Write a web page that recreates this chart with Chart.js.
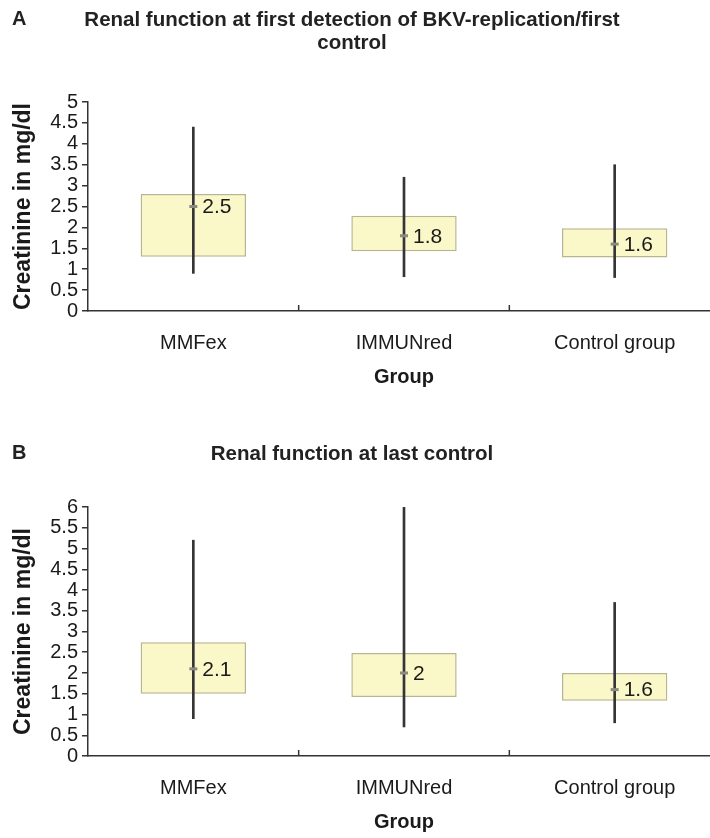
<!DOCTYPE html>
<html>
<head>
<meta charset="utf-8">
<script src="https://cdn.jsdelivr.net/npm/chart.js@4"></script>
<style>
  html, body { margin: 0; padding: 0; background: #ffffff; overflow: hidden; }
  #wrap { position: relative; width: 710px; height: 838px; overflow: hidden; }
  canvas { position: absolute; left: 0; }
  .lbl { position: absolute; font-family: "Liberation Sans", Arial, sans-serif; font-weight: bold; font-size: 20px; color: #222; line-height: 23px; }
  .ttl { position: absolute; left: 0; width: 704px; text-align: center; font-family: "Liberation Sans", Arial, sans-serif; font-weight: bold; font-size: 20.5px; color: #222; line-height: 23px; }
</style>
</head>
<body>
<div id="wrap">
  <canvas id="chartA" width="720" height="420" style="top:0px; width:720px; height:420px;"></canvas>
  <canvas id="chartB" width="720" height="418" style="top:420px; width:720px; height:418px;"></canvas>
  <div class="lbl" style="left:12px; top:7px;">A</div>
  <div class="ttl" style="top:7px;">Renal function at first detection of BKV-replication/first<br>control</div>
  <div class="lbl" style="left:12px; top:441px;">B</div>
  <div class="ttl" style="top:441px;">Renal function at last control</div>
</div>
<script>
// ---------- data ----------
const categories = ['MMFex', 'IMMUNred', 'Control group'];

// Panel A: first detection of BKV replication / first control
const minA    = [0.90, 0.82, 0.80];
const q1A     = [1.30, 1.43, 1.28];
const medianA = [2.5, 1.8, 1.6];
const q3A     = [2.80, 2.28, 1.98];
const maxA    = [4.40, 3.20, 3.50];
const yTicksA = [0, 0.5, 1, 1.5, 2, 2.5, 3, 3.5, 4, 4.5, 5];

// Panel B: last control
const minB    = [0.90, 0.70, 0.80];
const q1B     = [1.50, 1.42, 1.33];
const medianB = [2.1, 2, 1.6];
const q3B     = [2.74, 2.48, 2.00];
const maxB    = [5.20, 6.00, 3.70];
const yTicksB = [0, 0.5, 1, 1.5, 2, 2.5, 3, 3.5, 4, 4.5, 5, 5.5, 6];

const FONT = '"Liberation Sans", Arial, Helvetica, sans-serif';

const annotatePlugin = {
  id: 'annotate',
  afterDatasetsDraw(chart) {
    const ctx = chart.ctx;
    const xs = chart.scales.x;
    const area = chart.chartArea;
    // inner tick marks at category boundaries
    ctx.save();
    ctx.strokeStyle = '#333';
    ctx.lineWidth = 1.5;
    for (let i = 0; i < categories.length - 1; i++) {
      const bx = (xs.getPixelForValue(i) + xs.getPixelForValue(i + 1)) / 2;
      ctx.beginPath();
      ctx.moveTo(bx, area.bottom);
      ctx.lineTo(bx, area.bottom - 6);
      ctx.stroke();
    }
    // median value labels
    const idx = chart.data.datasets.findIndex(d => d.label === 'Median');
    const meta = chart.getDatasetMeta(idx);
    const vals = chart.data.datasets[idx].data;
    ctx.fillStyle = '#1a1a1a';
    ctx.font = '21px ' + FONT;
    ctx.textAlign = 'left';
    ctx.textBaseline = 'middle';
    meta.data.forEach((pt, i) => {
      ctx.fillText(String(vals[i]), pt.x + 9, pt.y + 1);
    });
    ctx.restore();
  }
};

function makeChart(id, mins, q1s, meds, q3s, maxs, yTicks, padTop, padBottom) {
  const yMax = yTicks[yTicks.length - 1];
  return new Chart(document.getElementById(id), {
    type: 'bar',
    data: {
      labels: categories,
      datasets: [
        {
          label: 'Box',
          data: q1s.map((v, i) => [v, q3s[i]]),
          backgroundColor: '#faf7c9',
          borderColor: '#b9b58d',
          borderWidth: 1.5,
          borderSkipped: false,
          grouped: false,
          barPercentage: 1,
          categoryPercentage: 0.5,
          order: 3
        },
        {
          label: 'Range',
          data: mins.map((v, i) => [v, maxs[i]]),
          backgroundColor: '#353535',
          borderWidth: 0,
          grouped: false,
          barThickness: 2,
          order: 2
        },
        {
          label: 'Median',
          type: 'line',
          data: meds,
          showLine: false,
          pointStyle: 'line',
          pointRadius: 4,
          pointBorderColor: '#8a8a80',
          pointBorderWidth: 3,
          order: 1
        }
      ]
    },
    options: {
      responsive: false,
      animation: false,
      devicePixelRatio: 1,
      layout: { autoPadding: false, padding: { top: padTop, right: 0, left: 0, bottom: padBottom } },
      plugins: {
        legend: { display: false },
        tooltip: { enabled: false },
        title: { display: false }
      },
      scales: {
        x: {
          offset: true,
          afterFit(scale) { scale.height = 78; scale.paddingRight = 0; scale.paddingLeft = 0; },
          grid: { display: true, drawOnChartArea: false, drawTicks: false },
          border: { display: true, color: '#333', width: 1.5 },
          ticks: { padding: 20, color: '#1a1a1a', font: { family: FONT, size: 20 } },
          title: {
            display: true, text: 'Group', color: '#1a1a1a',
            font: { family: FONT, size: 20, weight: 'bold' },
            padding: { top: 8, bottom: 0 }
          }
        },
        y: {
          min: 0,
          max: yMax,
          afterFit(scale) { scale.width = 88; },
          afterBuildTicks(scale) { scale.ticks = yTicks.map(v => ({ value: v })); },
          grid: { drawOnChartArea: false, drawTicks: true, tickLength: 6, color: '#333', lineWidth: 1.5 },
          border: { display: true, color: '#333', width: 1.5 },
          ticks: {
            autoSkip: false,
            padding: 4,
            color: '#1a1a1a',
            font: { family: FONT, size: 20 },
            callback: (v) => String(v)
          },
          title: {
            display: true, text: 'Creatinine in mg/dl', color: '#1a1a1a',
            font: { family: FONT, size: 23, weight: 'bold' },
            padding: { top: 10, bottom: 0 }
          }
        }
      }
    },
    plugins: [annotatePlugin]
  });
}

makeChart('chartA', minA, q1A, medianA, q3A, maxA, yTicksA, 102, 31);
makeChart('chartB', minB, q1B, medianB, q3B, maxB, yTicksB, 87, 4);
</script>
</body>
</html>
